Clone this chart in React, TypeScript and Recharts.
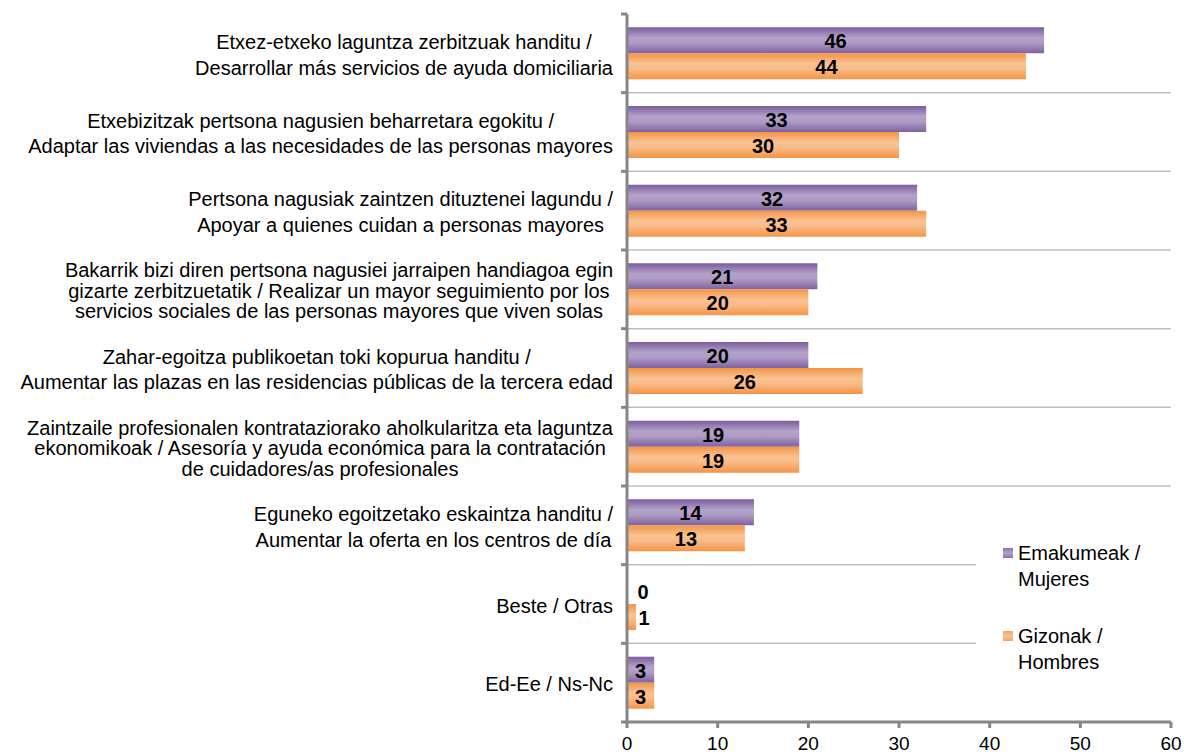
import React from 'react';
import { BarChart, Bar, XAxis, YAxis, CartesianGrid, LabelList } from 'recharts';

const categories = [
  'Etxez-etxeko laguntza zerbitzuak handitu /\nDesarrollar más servicios de ayuda domiciliaria',
  'Etxebizitzak pertsona nagusien beharretara egokitu /\nAdaptar las viviendas a las necesidades de las personas mayores',
  'Pertsona nagusiak zaintzen dituztenei lagundu /\nApoyar a quienes cuidan a personas mayores',
  'Bakarrik bizi diren pertsona nagusiei jarraipen handiagoa egin\ngizarte zerbitzuetatik / Realizar un mayor seguimiento por los\nservicios sociales de las personas mayores que viven solas',
  'Zahar-egoitza publikoetan toki kopurua handitu /\nAumentar las plazas en las residencias públicas de la tercera edad',
  'Zaintzaile profesionalen kontrataziorako aholkularitza eta laguntza\nekonomikoak / Asesoría y ayuda económica para la contratación\nde cuidadores/as profesionales',
  'Eguneko egoitzetako eskaintza handitu /\nAumentar la oferta en los centros de día',
  'Beste / Otras',
  'Ed-Ee / Ns-Nc',
];

const emakumeak = [46, 33, 32, 21, 20, 19, 14, 0, 3];
const gizonak = [44, 30, 33, 20, 26, 19, 13, 1, 3];
const xTicks = [0, 10, 20, 30, 40, 50, 60];

const seriesNames = ['Emakumeak /\nMujeres', 'Gizonak /\nHombres'];

const data = categories.map((name, i) => ({ name, emakumeak: emakumeak[i], gizonak: gizonak[i] }));

const W = 1184;
const H = 754;
const TOP = 14;
const BOTTOM = 32;
const AXIS_W = 627;
const BAND = (H - TOP - BOTTOM) / categories.length;
const FONT = '"Liberation Sans", Arial, sans-serif';
const FS = 20;

const ctx = typeof document !== 'undefined' ? document.createElement('canvas').getContext('2d') : null;
const textWidth = (t: string) => {
  if (!ctx) return t.length * FS * 0.5;
  ctx.font = `${FS}px ${FONT}`;
  return ctx.measureText(t).width;
};

// multi-line, centred block whose right edge sits next to the axis
const CategoryTick = (props: any) => {
  const { y, payload, index } = props;
  const lines: string[] = String(payload.value).split('\n');
  const lh = lines.length > 2 ? 20.5 : 25.5;
  const maxW = Math.max(...lines.map(textWidth));
  const right = AXIS_W - 14;
  const cx = right - maxW / 2;
  const startY = y - ((lines.length - 1) * lh) / 2 + 1.5;
  const top = y - BAND / 2;
  return (
    <g>
      <line x1={AXIS_W - 6} x2={AXIS_W} y1={top} y2={top} stroke="#868686" strokeWidth={3} />
      {index === categories.length - 1 && (
        <line x1={AXIS_W - 6} x2={AXIS_W} y1={top + BAND} y2={top + BAND} stroke="#868686" strokeWidth={3} />
      )}
      <text x={cx} y={startY} textAnchor="middle" fontFamily={FONT} fontSize={FS} fill="#000">
        {lines.map((l, i) => (
          <tspan key={i} x={cx} y={startY + i * lh} dominantBaseline="central">
            {l}
          </tspan>
        ))}
      </text>
    </g>
  );
};

const ValueLabel = (props: any) => {
  const { x, y, width, height, value } = props;
  const small = width < 20;
  const cx = small ? Math.max(x + width + 8, x + 16) : x + width / 2;
  return (
    <text
      x={cx}
      y={y + height / 2 + 1}
      textAnchor="middle"
      dominantBaseline="central"
      fontFamily={FONT}
      fontSize={20}
      fontWeight="bold"
      fill="#000"
    >
      {value}
    </text>
  );
};

const gridLines = ({ offset }: any) =>
  categories.slice(1).map((_, i) => offset.top + (i + 1) * (offset.height / categories.length));

export default function App() {
  return (
    <div style={{ position: 'absolute', left: 0, top: 0, width: W, height: H, background: '#fff' }}>
      <BarChart
        width={W}
        height={H}
        data={data}
        layout="vertical"
        margin={{ top: TOP, right: 13, left: 0, bottom: 0 }}
        barCategoryGap="17%"
        barGap={0}
      >
        <defs>
          <linearGradient id="gPurple" x1="0" y1="0" x2="0" y2="1">
            <stop offset="0" stopColor="#7b5c9e" />
            <stop offset="0.4" stopColor="#b3a2c8" />
            <stop offset="0.6" stopColor="#ae9cc4" />
            <stop offset="1" stopColor="#7e61a1" />
          </linearGradient>
          <linearGradient id="gOrange" x1="0" y1="0" x2="0" y2="1">
            <stop offset="0" stopColor="#f49445" />
            <stop offset="0.4" stopColor="#fac293" />
            <stop offset="0.6" stopColor="#f9bb88" />
            <stop offset="1" stopColor="#f59444" />
          </linearGradient>
        </defs>
        <CartesianGrid
          vertical={false}
          stroke="#c0c0c0"
          strokeWidth={1.5}
          horizontalCoordinatesGenerator={gridLines}
        />
        <XAxis
          type="number"
          domain={[0, 60]}
          ticks={xTicks}
          interval={0}
          height={BOTTOM}
          axisLine={{ stroke: '#868686', strokeWidth: 3 }}
          tickLine={{ stroke: '#868686', strokeWidth: 3 }}
          tickSize={6}
          tick={{ fontFamily: FONT, fontSize: 19, fill: '#000', dy: 7 }}
        />
        <YAxis
          type="category"
          dataKey="name"
          width={AXIS_W}
          interval={0}
          axisLine={{ stroke: '#868686', strokeWidth: 3 }}
          tickLine={false}
          tick={<CategoryTick />}
        />
        <Bar dataKey="emakumeak" fill="url(#gPurple)" minPointSize={0.01} isAnimationActive={false}>
          <LabelList dataKey="emakumeak" content={<ValueLabel />} />
        </Bar>
        <Bar dataKey="gizonak" fill="url(#gOrange)" isAnimationActive={false}>
          <LabelList dataKey="gizonak" content={<ValueLabel />} />
        </Bar>
      </BarChart>
      <div
        style={{
          position: 'absolute',
          left: 976,
          top: 540,
          width: 195,
          height: 142,
          background: '#fff',
          fontFamily: FONT,
          fontSize: FS,
          color: '#000',
        }}
      >
        {seriesNames.map((s, i) => (
          <div
            key={s}
            style={{ position: 'absolute', left: 42, top: i * 83, lineHeight: '26px', whiteSpace: 'pre' }}
          >
            <span
              style={{
                position: 'absolute',
                left: -15,
                top: 8,
                width: 10,
                height: 10,
                background:
                  i === 0
                    ? 'linear-gradient(#8d72ad, #b3a2c8, #8d72ad)'
                    : 'linear-gradient(#f6a15c, #fac293, #f6a15c)',
              }}
            />
            {s}
          </div>
        ))}
      </div>
    </div>
  );
}
